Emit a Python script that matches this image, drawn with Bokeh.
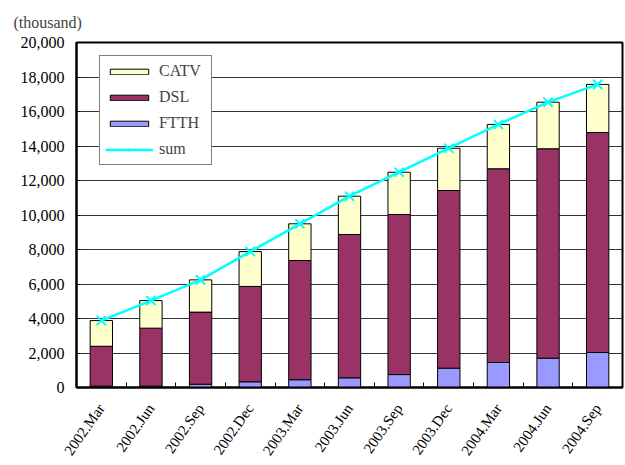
from bokeh.plotting import figure
from bokeh.models import (ColumnDataSource, Range1d, NumeralTickFormatter, Legend, LegendItem,
                          FixedTicker)
from bokeh.embed import file_html
from bokeh.resources import INLINE
import math

categories = ["2002.Mar", "2002.Jun", "2002.Sep", "2002.Dec", "2003.Mar", "2003.Jun",
              "2003.Sep", "2003.Dec", "2004.Mar", "2004.Jun", "2004.Sep"]
ftth = [80, 80, 190, 330, 450, 560, 750, 1120, 1450, 1700, 2030]
dsl = [2310, 3360, 4180, 5530, 6910, 8310, 9280, 10300, 11230, 12140, 12750]
catv = [1490, 1600, 1870, 2020, 2130, 2220, 2450, 2450, 2570, 2700, 2790]
total = [f + d + c for f, d, c in zip(ftth, dsl, catv)]
y_ticks = [0, 2000, 4000, 6000, 8000, 10000, 12000, 14000, 16000, 18000, 20000]
unit_label = "(thousand)"

idx = list(range(len(categories)))
src = ColumnDataSource(dict(x=idx, FTTH=ftth, DSL=dsl, CATV=catv, total=total))

FONT = "Liberation Serif"

p = figure(width=625, height=465, x_range=Range1d(-0.5, len(categories) - 0.5),
           y_range=(0, 20000), output_backend="svg", toolbar_location=None,
           min_border_left=76, min_border_right=3, min_border_top=42, min_border_bottom=78)

rs = p.vbar_stack(["FTTH", "DSL", "CATV"], x="x", width=0.45, source=src,
                  fill_color=["#9999FF", "#993366", "#FFFFCC"], line_color="black", line_width=1)
ln = p.line("x", "total", source=src, line_color="#00FFFF", line_width=2.5)
sc = p.scatter("x", "total", source=src, marker="x", size=13, line_color="#00FFFF", line_width=2)

legend = Legend(items=[LegendItem(label="CATV", renderers=[rs[2]]),
                       LegendItem(label="DSL", renderers=[rs[1]]),
                       LegendItem(label="FTTH", renderers=[rs[0]]),
                       LegendItem(label="sum", renderers=[ln, sc])],
                location=(23, 222), glyph_width=48, glyph_height=7, spacing=6,
                label_height=20, label_width=47,
                label_text_font=FONT, label_text_font_size="16px", label_standoff=6,
                border_line_color="black", border_line_width=1, padding=5,
                background_fill_alpha=1)
p.add_layout(legend)

p.title.text = unit_label
p.title.text_font = FONT
p.title.text_font_size = "16px"
p.title.text_font_style = "normal"
p.title.align = "left"
p.title.vertical_align = "top"
p.title.offset = -63
p.title.standoff = 20

p.yaxis.ticker = FixedTicker(ticks=y_ticks)
p.yaxis.formatter = NumeralTickFormatter(format="0,0")
p.yaxis.major_label_text_font = FONT
p.yaxis.major_label_text_font_size = "16px"
p.yaxis.major_label_text_color = "black"
p.yaxis.major_tick_in = 4
p.yaxis.major_tick_out = 0
p.yaxis.minor_tick_line_color = None
p.yaxis.axis_line_width = 2
p.yaxis.axis_line_color = "black"
p.yaxis.major_label_standoff = 12

p.xaxis.ticker = FixedTicker(ticks=idx, minor_ticks=[i + 0.5 for i in idx[:-1]])
p.xaxis.major_label_overrides = {i: c for i, c in zip(idx, categories)}
p.xaxis.major_label_orientation = math.radians(55)
p.xaxis.major_label_text_font = FONT
p.xaxis.major_label_text_font_size = "15px"
p.xaxis.major_label_text_color = "black"
p.xaxis.major_tick_line_color = None
p.xaxis.minor_tick_in = 5
p.xaxis.minor_tick_out = 0
p.xaxis.minor_tick_line_color = "black"
p.xaxis.minor_tick_line_width = 1
p.xaxis.axis_line_width = 2
p.xaxis.axis_line_color = "black"
p.xaxis.major_label_standoff = 12

p.xgrid.grid_line_color = None
p.ygrid.grid_line_color = "#333333"
p.ygrid.grid_line_width = 1
p.outline_line_color = "black"
p.outline_line_width = 2

open("out.html", "w").write(file_html(p, INLINE))
